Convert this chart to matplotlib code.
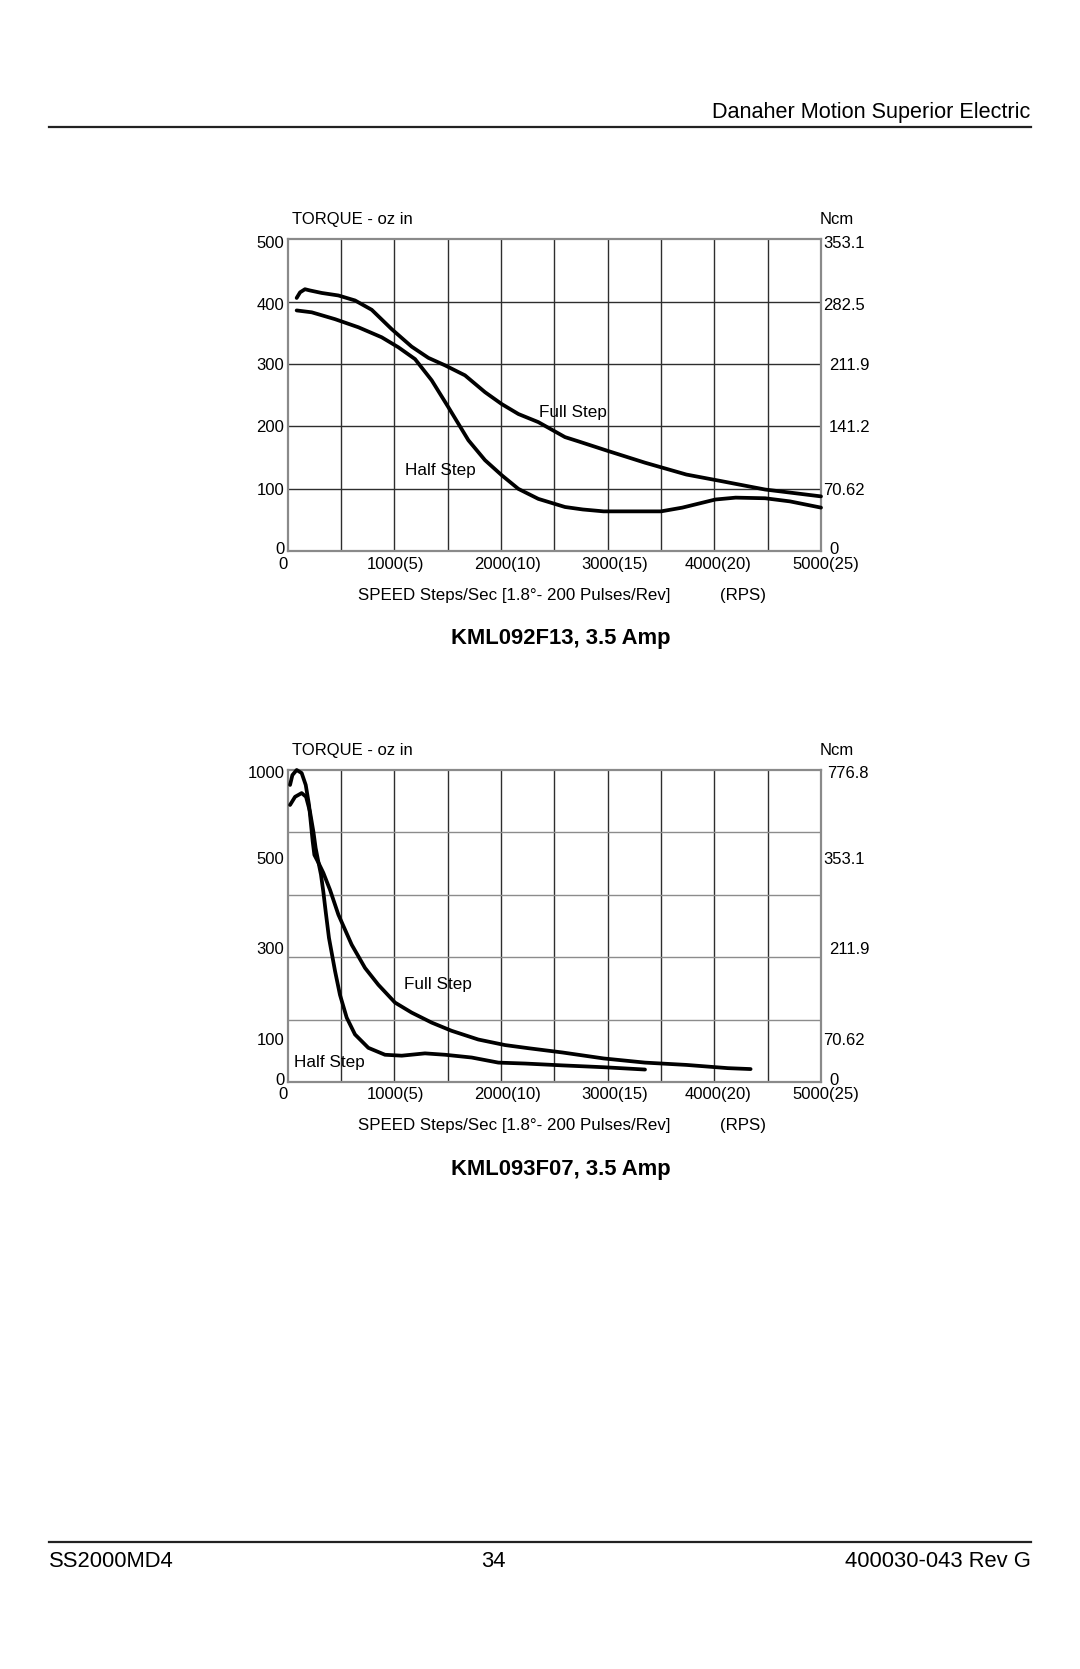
import numpy as np
import matplotlib.pyplot as plt
from matplotlib.lines import Line2D
from matplotlib.transforms import ScaledTranslation

plt.rcParams['font.family'] = ['Liberation Sans', 'DejaVu Sans']

W, H = 1080, 1669

# KML092F13, 3.5 Amp  (speed in steps/sec, torque in oz-in)
f13_full_speed = [84, 116, 162, 209, 319, 475, 631, 788, 975, 1162, 1319, 1475, 1662, 1850,
                  2006, 2163, 2350, 2600, 2729, 2999, 3350, 3738, 4049, 4476, 5000]
f13_full_torque = [406, 415, 420, 418, 414, 410, 402, 387, 356, 328, 310, 298, 282, 255,
                   236, 220, 207, 183, 176, 161, 142, 123, 113, 99, 88]
f13_half_speed = [84, 225, 444, 663, 881, 1037, 1194, 1350, 1506, 1694, 1850, 2006, 2163,
                  2350, 2600, 2768, 2962, 3350, 3500, 3700, 4010, 4200, 4476, 4709, 5000]
f13_half_torque = [386, 383, 372, 359, 343, 327, 308, 274, 231, 178, 146, 122, 100,
                   84, 71, 67, 64, 64, 64, 70, 83, 86, 85, 80, 70]

# KML093F07, 3.5 Amp
f07_full_speed = [22, 44, 84, 131, 169, 200, 219, 234, 250, 287, 334, 397, 475, 600, 725, 850,
                  1006, 1162, 1350, 1537, 1787, 2037, 2263, 2574, 2962, 3350, 3738, 4127, 4340]
f07_full_torque = [912, 970, 1000, 982, 912, 794, 676, 581, 500, 483, 460, 422, 367, 300, 249, 212,
                   173, 151, 129, 111, 92, 80, 73, 64, 51, 42, 37, 30, 28]
f07_half_speed = [22, 69, 131, 172, 209, 241, 262, 287, 312, 334, 356, 387, 444, 490, 553, 631,
                  756, 912, 1069, 1287, 1475, 1725, 1975, 2225, 2574, 2962, 3350]
f07_half_torque = [794, 842, 864, 842, 754, 636, 540, 485, 456, 418, 374, 315, 242, 190, 140, 103,
                   74, 59, 57, 62, 59, 53, 42, 40, 36, 32, 27]

speed_ticks = [0, 1000, 2000, 3000, 4000, 5000]
speed_labels = ['0', '1000(5)', '2000(10)', '3000(15)', '4000(20)', '5000(25)']

f13_torque_ticks = [0, 100, 200, 300, 400, 500]
f13_ncm_labels = ['0', '70.62', '141.2', '211.9', '282.5', '353.1']
f07_torque_ticks = [0, 100, 300, 500, 1000]
f07_ncm_labels = ['0', '70.62', '211.9', '353.1', '776.8']
# the F07 torque axis is not linear: grid row (0..5) where each label sits
f07_label_rows = [0, 0.74, 2.2, 3.64, 5]

fig = plt.figure(figsize=(W / 100, H / 100), dpi=100)


def fx(x):
    return x / W


def fy(y):
    return 1 - y / H


def nudge(labels, dxs=None, dys=None):
    # shift tick labels by a few pixels (dx right, dy down) like the printed sheet
    for i, lab in enumerate(labels):
        dx = dxs[i] if dxs else 0
        dy = dys[i] if dys else 0
        off = ScaledTranslation(dx / 100, -dy / 100, fig.dpi_scale_trans)
        lab.set_transform(lab.get_transform() + off)


def make_chart(top, full_x, full_y, half_x, half_y, ticks, ncm, title, full_pos, half_pos,
               left_dy, right_dx, rows=None):
    bottom = top + 312
    ax = fig.add_axes([fx(287.7), fy(bottom), fx(533.3), 312 / H])
    if rows is not None:
        fwd = lambda t: np.interp(np.asarray(t, dtype=float), ticks, rows)
        inv = lambda p: np.interp(np.asarray(p, dtype=float), rows, ticks)
        ax.set_yscale('function', functions=(fwd, inv))
        hgrid = inv(np.array([1, 2, 3, 4]))
        hcol = '#8c8c8c'
    else:
        hgrid = ticks[1:-1]
        hcol = '#2e2e2e'
    ax.set_xlim(0, 5000)
    ax.set_ylim(ticks[0], ticks[-1])

    ax.plot(full_x, full_y, color='black', lw=2.7, solid_capstyle='round',
            solid_joinstyle='round', clip_on=False, zorder=3)
    ax.plot(half_x, half_y, color='black', lw=2.7, solid_capstyle='round',
            solid_joinstyle='round', clip_on=False, zorder=3)

    for v in range(500, 5000, 500):
        ax.axvline(v, color='#2e2e2e', lw=1.0, zorder=1)
    for v in hgrid:
        ax.axhline(v, color=hcol, lw=1.0, zorder=1)

    for s in ax.spines.values():
        s.set_color('#8a8a8a')
        s.set_linewidth(1.6)

    ax.set_xticks(speed_ticks)
    ax.set_xticklabels(speed_labels)
    ax.set_yticks(ticks)
    ax.set_yticklabels([str(t) for t in ticks])
    ax.yaxis.set_minor_locator(plt.NullLocator())
    ax.tick_params(axis='both', length=0, labelsize=12)
    ax.tick_params(axis='y', pad=2.4)
    ax.tick_params(axis='x', pad=3.9)
    nudge(ax.get_yticklabels(), dys=left_dy)
    nudge(ax.get_xticklabels(), dxs=[-5, 1, 7, 7, 4, 5])

    tw = ax.twinx()
    if rows is not None:
        tw.set_yscale('function', functions=(fwd, inv))
    tw.set_ylim(ticks[0], ticks[-1])
    tw.set_yticks(ticks)
    tw.set_yticklabels(ncm)
    tw.yaxis.set_minor_locator(plt.NullLocator())
    tw.tick_params(axis='y', length=0, labelsize=12, pad=1.5)
    for s in tw.spines.values():
        s.set_visible(False)
    nudge(tw.get_yticklabels(), dxs=right_dx, dys=left_dy)

    ax.text(full_pos[0], full_pos[1], 'Full Step', fontsize=12.3, ha='center', va='center', zorder=4)
    ax.text(half_pos[0], half_pos[1], 'Half Step', fontsize=12.3, ha='center', va='center', zorder=4)

    fig.text(fx(291.7), fy(top - 15.3), 'TORQUE - oz in', fontsize=12, va='baseline')
    fig.text(fx(820), fy(top - 15.3), 'Ncm', fontsize=12, va='baseline')
    fig.text(fx(358.3), fy(top + 360.4), 'SPEED Steps/Sec [1.8°- 200 Pulses/Rev]', fontsize=12.2,
             va='baseline')
    fig.text(fx(720), fy(top + 360.4), '(RPS)', fontsize=12.2, va='baseline')
    fig.text(fx(561), fy(top + 404.6), title, fontsize=15.8, fontweight='bold', ha='center',
             va='baseline')
    return ax


make_chart(239.3, f13_full_speed, f13_full_torque, f13_half_speed, f13_half_torque,
           f13_torque_ticks, f13_ncm_labels, 'KML092F13, 3.5 Amp', (2670, 223), (1428, 130),
           left_dy=[-3, 0, 0, 0, 2, 2.5], right_dx=[6, 0, 6, 6, 0, 0])
make_chart(770, f07_full_speed, f07_full_torque, f07_half_speed, f07_half_torque,
           f07_torque_ticks, f07_ncm_labels, 'KML093F07, 3.5 Amp', (1412, 212), (390, 42),
           left_dy=[-3, 3, 3, 3, 2], right_dx=[6, 0, 6, 0, 4], rows=f07_label_rows)

# page header and footer
fig.text(fx(1030), fy(117.7), 'Danaher Motion Superior Electric', fontsize=15.6, ha='right',
         va='baseline')
fig.add_artist(Line2D([fx(49), fx(1031)], [fy(126.7), fy(126.7)], color='#222222', lw=1.6))
fig.add_artist(Line2D([fx(49), fx(1031)], [fy(1541.7), fy(1541.7)], color='#222222', lw=1.6))
fig.text(fx(49), fy(1567), 'SS2000MD4', fontsize=15.8, ha='left', va='baseline')
fig.text(fx(493), fy(1567), '34', fontsize=15.8, ha='center', va='baseline')
fig.text(fx(1031), fy(1567), '400030-043 Rev G', fontsize=15.8, ha='right', va='baseline')

fig.savefig('out.png', dpi=100, facecolor='white')
